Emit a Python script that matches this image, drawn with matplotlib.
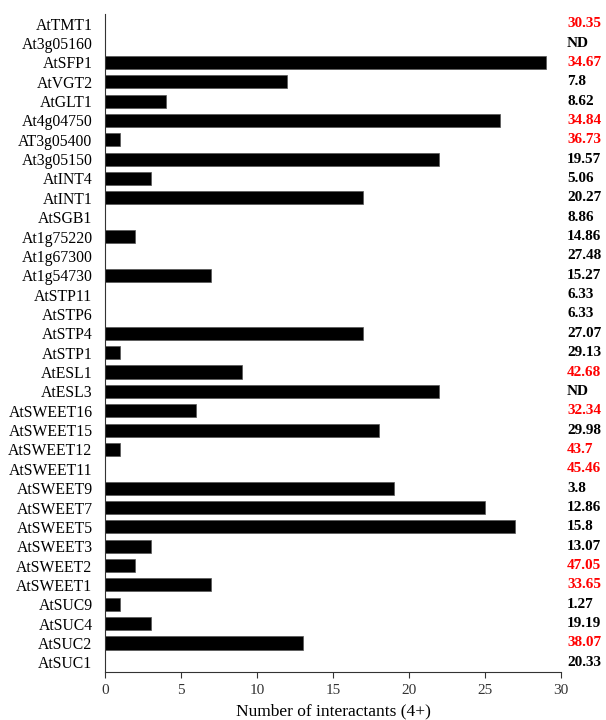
import matplotlib
matplotlib.use("Agg")
import matplotlib.pyplot as plt

# gene names, top to bottom as shown in the figure
genes = ["AtTMT1", "At3g05160", "AtSFP1", "AtVGT2", "AtGLT1", "At4g04750",
         "AT3g05400", "At3g05150", "AtINT4", "AtINT1", "AtSGB1", "At1g75220",
         "At1g67300", "At1g54730", "AtSTP11", "AtSTP6", "AtSTP4", "AtSTP1",
         "AtESL1", "AtESL3", "AtSWEET16", "AtSWEET15", "AtSWEET12", "AtSWEET11",
         "AtSWEET9", "AtSWEET7", "AtSWEET5", "AtSWEET3", "AtSWEET2", "AtSWEET1",
         "AtSUC9", "AtSUC4", "AtSUC2", "AtSUC1"]

# number of interactants (4+)
interactants = [0, 0, 29, 12, 4, 26, 1, 22, 3, 17, 0, 2, 0, 7, 0, 0, 17, 1,
                9, 22, 6, 18, 1, 0, 19, 25, 27, 3, 2, 7, 1, 3, 13, 0]

# values printed in the right-hand column
side_labels = ["30.35", "ND", "34.67", "7.8", "8.62", "34.84", "36.73", "19.57",
               "5.06", "20.27", "8.86", "14.86", "27.48", "15.27", "6.33", "6.33",
               "27.07", "29.13", "42.68", "ND", "32.34", "29.98", "43.7", "45.46",
               "3.8", "12.86", "15.8", "13.07", "47.05", "33.65", "1.27", "19.19",
               "38.07", "20.33"]

plt.rcParams["font.family"] = ["Liberation Serif", "DejaVu Serif"]

fig = plt.figure(figsize=(6.06, 7.2), dpi=100)
ax = fig.add_axes([105 / 606, 1 - 672 / 720, 456 / 606, 658 / 720])

ypos = list(range(len(genes)))
ax.barh(ypos, interactants, height=0.68, color="black", edgecolor="#555555", linewidth=0.5)

ax.set_yticks(ypos)
ax.set_yticklabels(genes, fontsize=11.3)
ax.set_ylim(len(genes) - 0.5, -0.5)
ax.set_xlim(0, 30)
ax.set_xticks([0, 5, 10, 15, 20, 25, 30])
ax.tick_params(axis="x", labelsize=11, direction="out", length=4, colors="#333333", pad=5)
ax.tick_params(axis="y", length=0, pad=9)
ax.set_xlabel("Number of interactants (4+)", fontsize=12.5, labelpad=4)

for side in ["top", "right"]:
    ax.spines[side].set_visible(False)
ax.spines["left"].set_color("#333333")
ax.spines["bottom"].set_color("#333333")

# numbers on the right, red when above 30
for y, lab in zip(ypos, side_labels):
    col = "black"
    if lab != "ND" and float(lab) > 30:
        col = "#ff0000"
    ax.text(30.4, y, lab, ha="left", va="center", fontsize=11,
            fontweight="bold", color=col, clip_on=False)

fig.savefig("out.png", dpi=100)
